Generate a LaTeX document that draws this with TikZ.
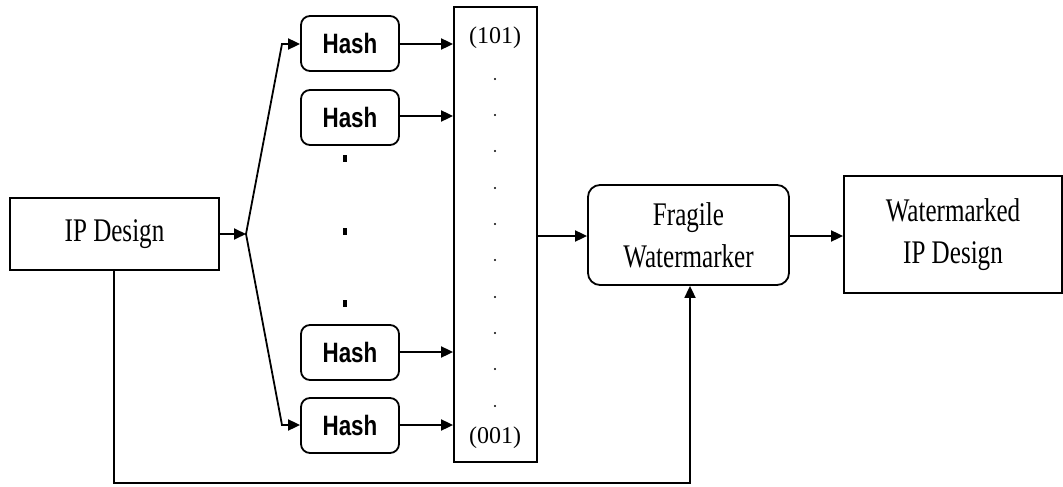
\documentclass[tikz,border=0pt]{standalone}
\usepackage{fontspec}
\setmainfont{Liberation Serif}
\newfontfamily\narrowserif[FakeStretch=0.76]{Liberation Serif}
\newfontfamily\hashfont[FakeStretch=0.8]{Liberation Sans}
\usetikzlibrary{arrows.meta}
\begin{document}
\begin{tikzpicture}[x=1pt,y=-1pt,
  line width=1.8pt,
  arr/.style={-{Triangle[length=12pt,width=11pt]}},
  bigtext/.style={font=\narrowserif\fontsize{33}{42}\selectfont, align=center},
  hashbox/.style={draw, rounded corners=9pt, minimum width=98pt, minimum height=55pt, inner sep=0pt,
    font=\hashfont\bfseries\fontsize{28}{30}\selectfont},
  plainbox/.style={draw, inner sep=0pt, bigtext},
  codelabel/.style={inner sep=0pt, font=\fontsize{24}{24}\selectfont},
  coldot/.style={fill=black, inner sep=0pt, minimum size=2.4pt, circle},
  gapdot/.style={fill=black, inner sep=0pt, minimum width=4pt, minimum height=7pt, rectangle}
]
\useasboundingbox (0,0) rectangle (1063,487);

\node[plainbox, minimum width=209pt, minimum height=72pt] (ip) at (114.5,234) {IP Design};

\node[hashbox] (h1) at (350,43.5) {Hash};
\node[hashbox] (h2) at (350,117.5) {Hash};
\node[hashbox] (h3) at (350,352.5) {Hash};
\node[hashbox] (h4) at (350,425.5) {Hash};

\node[gapdot] (g1) at (345,158) {};
\node[gapdot] (g2) at (345,231) {};
\node[gapdot] (g3) at (345,303) {};

\node[draw, minimum width=83pt, minimum height=455pt, inner sep=0pt] (col) at (495.5,234.5) {};
\node[codelabel] (c1) at (495,37.5) {(101)};
\node[codelabel] (c2) at (495,437.5) {(001)};
\foreach \i [count=\k] in {79,115,151,188,224,260,297,333,369,406}
  \node[coldot] (d\k) at (495,\i) {};

\node[plainbox, rounded corners=12pt, minimum width=201pt, minimum height=100pt] (frag) at (688.5,235) {Fragile\\Watermarker};
\node[plainbox, minimum width=218pt, minimum height=117pt] (wm) at (953,234.5) {Watermarked\\IP Design};

\coordinate (br) at (246,234);
\coordinate (bu) at (282,44);
\coordinate (bd) at (282,425);
\coordinate (lb) at (114,483);
\coordinate (rb) at (690,483);

\draw[arr] (ip.east) -- (br);
\draw[arr] (br) -- (bu) -- (h1.west |- bu);
\draw[arr] (br) -- (bd) -- (h4.west |- bd);

\draw[arr] (h1.east |- 0,44) -- (col.west |- 0,44);
\draw[arr] (h2.east |- 0,116) -- (col.west |- 0,116);
\draw[arr] (h3.east |- 0,352) -- (col.west |- 0,352);
\draw[arr] (h4.east |- 0,425) -- (col.west |- 0,425);

\draw[arr] (col.east |- 0,236) -- (frag.west |- 0,236);
\draw[arr] (frag.east |- 0,236) -- (wm.west |- 0,236);

\draw[arr] (ip.south -| lb) -- (lb) -- (rb) -- (frag.south -| rb);
\end{tikzpicture}
\end{document}
